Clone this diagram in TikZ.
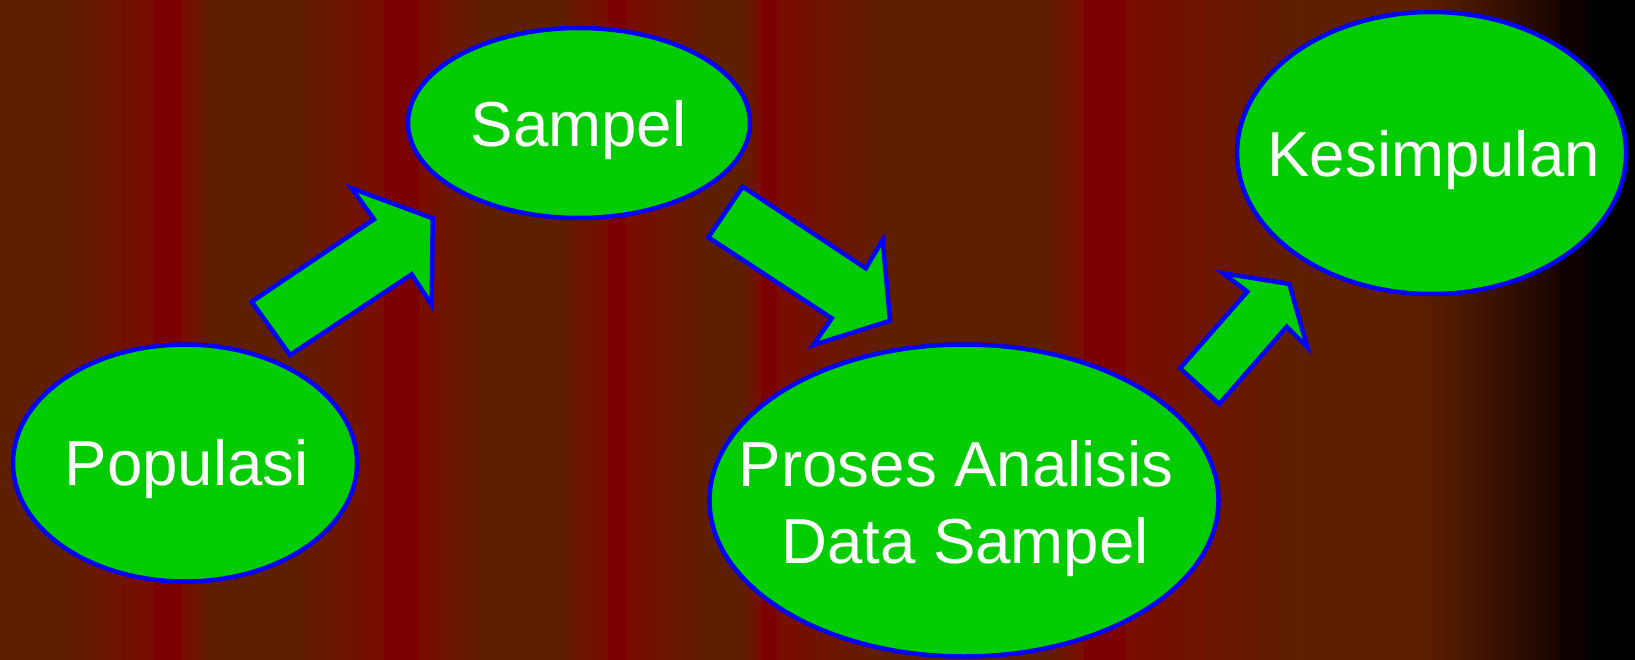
\documentclass[tikz,border=0pt]{standalone}
\usepackage{fontspec}
\setmainfont{Liberation Sans}
\usetikzlibrary{shapes.geometric}
\definecolor{bgB}{RGB}{94,31,0}
\definecolor{bgR}{RGB}{123,0,0}
\definecolor{bgM}{RGB}{122,12,0}
\definecolor{bgK}{RGB}{24,5,0}
\definecolor{bgD}{RGB}{14,0,0}
\definecolor{fillG}{RGB}{0,204,0}
\definecolor{edgeB}{RGB}{0,0,255}
\begin{document}
\begin{tikzpicture}[x=1pt,y=-1pt,
 bubble/.style={ellipse,draw=edgeB,fill=fillG,line width=4.5pt,inner sep=0pt},
 blockarrow/.style={draw=edgeB,fill=fillG,line width=4.5pt,line join=miter},
 lbl/.style={text=white,anchor=base,font=\fontsize{63.6}{75}\selectfont,inner sep=0pt}]
\useasboundingbox (0,0) rectangle (1635,660);
% background stripes
\fill[bgB] (0,0) rectangle (1635,660);
\shade[left color=bgB,right color=bgM] (60,0) rectangle (153.5,660);
\fill[bgR] (153,0) rectangle (182.5,660);
\shade[left color=bgM,right color=bgB] (182,0) rectangle (210.5,660);
\shade[left color=bgB,right color=bgM] (292,0) rectangle (384.5,660);
\fill[bgR] (384,0) rectangle (419.5,660);
\shade[left color=bgM,right color=bgB] (419,0) rectangle (486.5,660);
\shade[left color=bgB,right color=bgM] (557,0) rectangle (608.5,660);
\fill[bgR] (608,0) rectangle (626.5,660);
\shade[left color=bgM,right color=bgB] (626,0) rectangle (710.5,660);
\shade[left color=bgB,right color=bgM] (741,0) rectangle (761.5,660);
\fill[bgR] (761,0) rectangle (777.5,660);
\shade[left color=bgM,right color=bgB] (777,0) rectangle (889.5,660);
\shade[left color=bgB,right color=bgM] (1043,0) rectangle (1084.5,660);
\fill[bgR] (1084,0) rectangle (1126.5,660);
\shade[left color=bgM,right color=bgB] (1126,0) rectangle (1300.5,660);
\shade[left color=bgB,right color=bgK] (1420,0) rectangle (1560.5,660);
\fill[bgD] (1560,0) rectangle (1585.5,660);
\fill[black] (1585,0) rectangle (1635,660);
% ellipses
\node[bubble,minimum width=342pt,minimum height=190pt] (sampel) at (579,123) {};
\node[bubble,minimum width=344pt,minimum height=237pt] (populasi) at (185,463) {};
\node[bubble,minimum width=509pt,minimum height=312pt] (proses) at (964,500.5) {};
\node[bubble,minimum width=389pt,minimum height=282pt] (kesimpulan) at (1431.6,153) {};
% block arrows
\draw[blockarrow] (251.7,301.7) -- (374,219.3) -- (351.7,188.3) -- (432.7,218.3) -- (431.7,305) -- (411.7,274.3) -- (290,355) -- cycle;
\draw[blockarrow] (742.7,186.7) -- (865.7,268.3) -- (882.7,240) -- (890,320.7) -- (813.3,345) -- (831.7,318.3) -- (708.3,237.3) -- cycle;
\draw[blockarrow] (1180,368.3) -- (1247.3,291.7) -- (1223.3,273.3) -- (1289.3,284) -- (1307.3,347.3) -- (1286.7,326.7) -- (1219.3,404) -- cycle;
% labels
\node[lbl] (tsampel) at (578.5,146.7) {Sampel};
\node[lbl] (tpopulasi) at (186.7,485) {Populasi};
\node[lbl] (tproses1) at (956.3,486.7) {Proses Analisis};
\node[lbl] (tproses2) at (965,563.3) {Data Sampel};
\node[lbl] (tkesimpulan) at (1433.7,176.7) {Kesimpulan};
\end{tikzpicture}
\end{document}
